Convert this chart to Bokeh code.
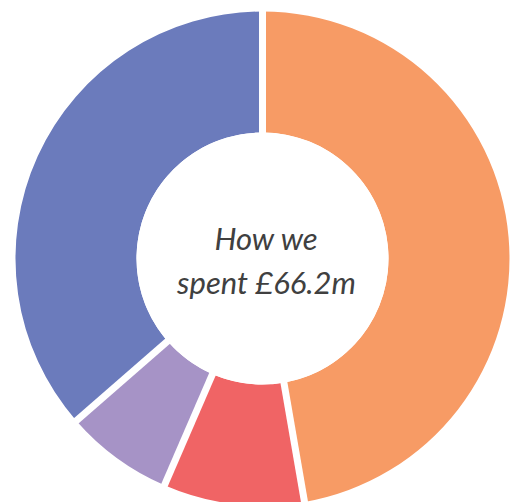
import math
from bokeh.plotting import figure
from bokeh.embed import file_html
from bokeh.resources import INLINE
from bokeh.core.properties import value

categories = ["Orange", "Red", "Lilac", "Blue"]
amounts = [31.3, 6.1, 4.7, 24.1]
colors = ["#F79B65", "#F06465", "#A693C6", "#6B7BBC"]
title_lines = ["How we", "spent £66.2m"]

W, H = 512, 502
cx, cy = 262, 258  # pixel position of centre within the canvas
p = figure(width=W, height=H, output_backend="svg", toolbar_location=None,
           x_range=(-cx, W - cx), y_range=(-(H - cy), cy), min_border=0,
           tools="")
p.axis.visible = False
p.grid.visible = False
p.outline_line_color = None
p.background_fill_color = "white"

total = sum(amounts)
starts, ends = [], []
cum = 0.0
for a in amounts:
    starts.append(math.pi / 2 - cum / total * 2 * math.pi)
    cum += a
    ends.append(math.pi / 2 - cum / total * 2 * math.pi)

R_OUT, R_IN = 247, 126
p.annular_wedge(x=0, y=0, inner_radius=R_IN, outer_radius=R_OUT,
                start_angle=starts, end_angle=ends, direction="clock",
                fill_color=colors, line_color=None)

# white separators
x1 = [(R_OUT + 10) * math.cos(s) for s in starts]
y1 = [(R_OUT + 10) * math.sin(s) for s in starts]
p.segment(x0=[0] * len(starts), y0=[0] * len(starts), x1=x1, y1=y1,
          line_color="white", line_width=7)
p.circle(x=0, y=0, radius=R_IN, fill_color="white", line_color=None)

p.text(x=[4, 4], y=[21, -23], text=title_lines, text_align="center",
       text_baseline="alphabetic", text_font=value("Lato"),
       text_font_style="italic", text_font_size="31px", text_color="#404040")

open("out.html", "w").write(file_html(p, INLINE))
